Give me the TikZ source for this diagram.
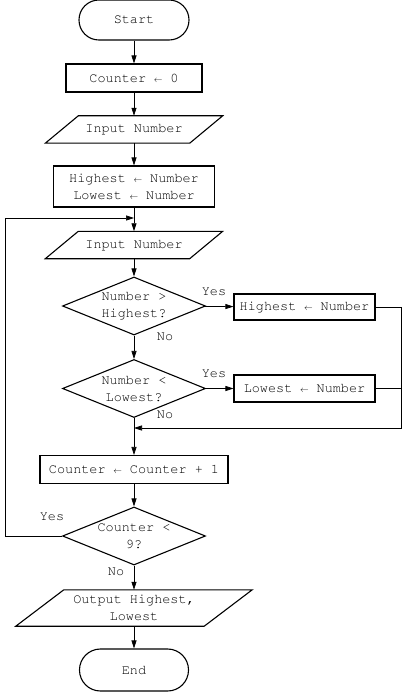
\documentclass[tikz,border=0pt]{standalone}
\usepackage[T1]{fontenc}
\usepackage{courier}
\usepackage{graphicx}
\usetikzlibrary{shapes.geometric,arrows.meta}
\newcommand{\myarr}{\makebox[0.6em][c]{\scalebox{0.6}{$\leftarrow$}}}
\begin{document}
\begin{tikzpicture}[x=1pt,y=-1pt,
  every node/.style={font=\ttfamily\fontsize{13.5}{17}\selectfont, inner sep=0pt, align=center},
  term/.style={draw, line width=1.1pt, rounded corners=19.9pt, minimum width=110pt, minimum height=40pt},
  proc/.style={draw, line width=1.1pt, minimum height=27pt},
  io/.style={minimum height=27pt},
  dec/.style={draw, line width=1.1pt, diamond, aspect=2.47, minimum width=143pt, minimum height=58pt},
  lbl/.style={font=\ttfamily\fontsize{13.5}{17}\selectfont},
  conn/.style={line width=0.7pt},
  arr/.style={conn, -{Triangle[length=8pt,width=5pt]}}
]
\useasboundingbox (0,0) rectangle (407,695);

\node[term] (start) at (134,20) {Start};
\node[proc, minimum width=136pt, minimum height=28pt] (c0) at (134,78) {Counter \myarr{} 0};
\node[io, minimum width=177pt] (in1) at (134,129.5) {Input Number};
\node[proc, minimum width=161pt, minimum height=41pt] (hl) at (134,186.5) {Highest \myarr{} Number\\Lowest \myarr{} Number};
\node[io, minimum width=177pt] (in2) at (134,245) {Input Number};
\node[dec] (d1) at (134,306) {Number >\\Highest?};
\node[proc, minimum width=141pt, minimum height=26pt] (sh) at (304.5,307) {Highest \myarr{} Number};
\node[dec] (d2) at (134,388.5) {Number <\\Lowest?};
\node[proc, minimum width=141pt, minimum height=27pt] (sl) at (304.5,388.5) {Lowest \myarr{} Number};
\node[proc, minimum width=188pt, minimum height=28pt] (inc) at (134,469.5) {Counter \myarr{} Counter + 1};
\node[dec] (d3) at (134,536) {Counter <\\9?};
\node[io, minimum width=236pt, minimum height=36pt] (out) at (134,608) {Output Highest,\\Lowest};
\node[term, minimum width=109pt, minimum height=42pt, rounded corners=20.9pt] (end) at (134,670) {End};

% parallelograms
\foreach \n/\s in {in1/33, in2/33, out/48}
  \draw[line width=1.1pt] ([xshift=\s pt]\n.north west) -- (\n.north east)
     -- ([xshift=-\s pt]\n.south east) -- (\n.south west) -- cycle;

% labels
\node[lbl] (y1) at (214,292) {Yes};
\node[lbl] (n1) at (165,337) {No};
\node[lbl] (y2) at (214,374) {Yes};
\node[lbl] (n2) at (165,415) {No};
\node[lbl] (y3) at (52,517) {Yes};
\node[lbl] (n3) at (116,572) {No};

% connectors
\draw[arr] (start) -- (c0);
\draw[arr] (c0) -- (in1);
\draw[arr] (in1) -- (hl);
\draw[arr] (hl) -- (in2);
\draw[arr] (in2) -- (d1);
\draw[arr] (d1) -- (sh);
\draw[arr] (d1) -- (d2);
\draw[arr] (d2) -- (sl);
\draw[arr] (d2) -- (inc);
\draw[arr] (inc) -- (d3);
\draw[arr] (d3) -- (out);
\draw[arr] (out) -- (end);

\coordinate (rx) at (401,0);
\coordinate (merge) at (134,428);
\coordinate (loopj) at (134,218);
\draw[arr] (sh.east) -| (rx |- merge) -- (merge);
\draw[conn] (sl.east) -- (sl.east -| rx);
\draw[arr] (d3.west) -- (5,536) |- (loopj);
\end{tikzpicture}
\end{document}
